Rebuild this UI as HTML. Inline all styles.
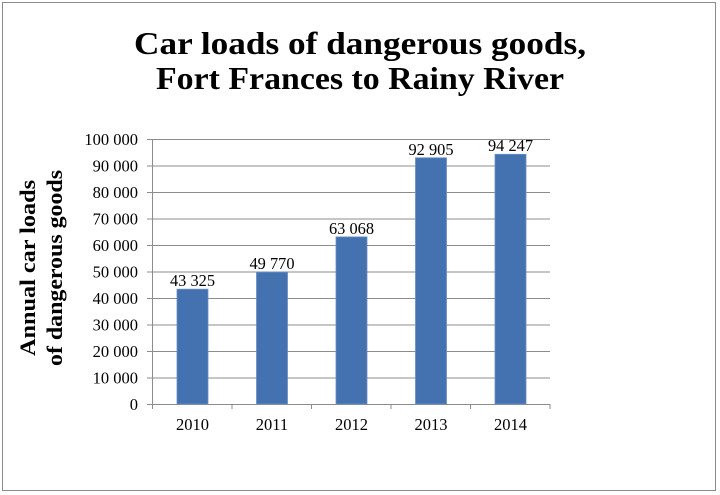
<!DOCTYPE html>
<html><head><meta charset="utf-8"><style>
html,body{margin:0;padding:0;background:#fff;}
svg{display:block;font-family:"Liberation Serif",serif;}
</style></head><body>
<svg width="720" height="495" viewBox="0 0 720 495">
<rect x="2.5" y="2.5" width="713" height="488" fill="#fff" stroke="#8a8a8a" stroke-width="1"/>
<text x="360" y="54" text-anchor="middle" font-size="32" font-weight="bold" textLength="452" lengthAdjust="spacingAndGlyphs">Car loads of dangerous goods,</text>
<text x="360" y="89" text-anchor="middle" font-size="32" font-weight="bold" textLength="408" lengthAdjust="spacingAndGlyphs">Fort Frances to Rainy River</text>
<g stroke="#8c8c8c" stroke-width="1">
<line x1="152" y1="139.5" x2="550" y2="139.5"/>
<line x1="152" y1="166" x2="550" y2="166"/>
<line x1="152" y1="192.5" x2="550" y2="192.5"/>
<line x1="152" y1="219" x2="550" y2="219"/>
<line x1="152" y1="245.5" x2="550" y2="245.5"/>
<line x1="152" y1="272" x2="550" y2="272"/>
<line x1="152" y1="298.5" x2="550" y2="298.5"/>
<line x1="152" y1="325" x2="550" y2="325"/>
<line x1="152" y1="351.5" x2="550" y2="351.5"/>
<line x1="152" y1="378" x2="550" y2="378"/>
<line x1="152" y1="404.5" x2="550" y2="404.5"/>
<line x1="152.5" y1="139" x2="152.5" y2="405"/>
<g>
<line x1="147" y1="139.5" x2="152" y2="139.5"/><line x1="147" y1="166" x2="152" y2="166"/><line x1="147" y1="192.5" x2="152" y2="192.5"/><line x1="147" y1="219" x2="152" y2="219"/><line x1="147" y1="245.5" x2="152" y2="245.5"/><line x1="147" y1="272" x2="152" y2="272"/><line x1="147" y1="298.5" x2="152" y2="298.5"/><line x1="147" y1="325" x2="152" y2="325"/><line x1="147" y1="351.5" x2="152" y2="351.5"/><line x1="147" y1="378" x2="152" y2="378"/><line x1="147" y1="404.5" x2="152" y2="404.5"/>
</g>
<line x1="152.5" y1="404" x2="152.5" y2="409"/><line x1="232" y1="404" x2="232" y2="409"/><line x1="311.5" y1="404" x2="311.5" y2="409"/><line x1="391" y1="404" x2="391" y2="409"/><line x1="470.5" y1="404" x2="470.5" y2="409"/><line x1="550" y1="404" x2="550" y2="409"/>
</g>
<g fill="#4472b0" stroke="#6a8fc4" stroke-width="0.8">
<rect x="177" y="289.2" width="31" height="114.8"/>
<rect x="256.5" y="272.1" width="31" height="131.9"/>
<rect x="336" y="236.9" width="31" height="167.1"/>
<rect x="415.5" y="157.8" width="31" height="246.2"/>
<rect x="495" y="154.3" width="31" height="249.7"/>
</g>
<g font-size="16.5" text-anchor="middle">
<text x="192.5" y="286" textLength="45" lengthAdjust="spacingAndGlyphs">43 325</text>
<text x="272" y="269" textLength="45" lengthAdjust="spacingAndGlyphs">49 770</text>
<text x="351.5" y="234" textLength="45" lengthAdjust="spacingAndGlyphs">63 068</text>
<text x="431" y="155" textLength="45" lengthAdjust="spacingAndGlyphs">92 905</text>
<text x="510.5" y="151" textLength="45" lengthAdjust="spacingAndGlyphs">94 247</text>
<text x="192.5" y="430">2010</text>
<text x="272" y="430">2011</text>
<text x="351.5" y="430">2012</text>
<text x="431" y="430">2013</text>
<text x="510.5" y="430">2014</text>
</g>
<g font-size="16.5" text-anchor="end">
<text x="138" y="145">100 000</text>
<text x="138" y="171.5">90 000</text>
<text x="138" y="198">80 000</text>
<text x="138" y="224.5">70 000</text>
<text x="138" y="251">60 000</text>
<text x="138" y="277.5">50 000</text>
<text x="138" y="304">40 000</text>
<text x="138" y="330.5">30 000</text>
<text x="138" y="357">20 000</text>
<text x="138" y="383.5">10 000</text>
<text x="138" y="410">0</text>
</g>
<g font-size="22" font-weight="bold" text-anchor="middle">
<text transform="translate(35,268) rotate(-90)" textLength="176" lengthAdjust="spacingAndGlyphs">Annual car loads</text>
<text transform="translate(62,268) rotate(-90)" textLength="196" lengthAdjust="spacingAndGlyphs">of dangerous goods</text>
</g>
</svg>
</body></html>
